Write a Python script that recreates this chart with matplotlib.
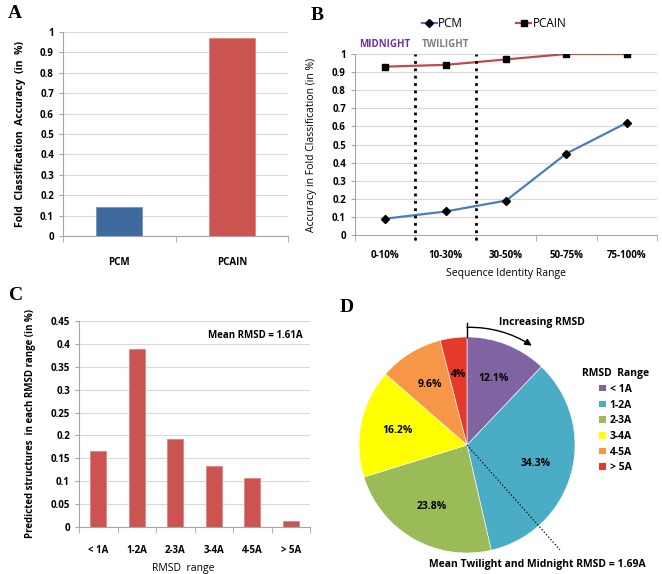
import matplotlib.pyplot as plt
import numpy as np
from matplotlib.patches import Patch

# panel A
methods = ["PCM", "PCAIN"]
fold_acc = [0.14, 0.97]

# panel B
id_ranges = ["0-10%", "10-30%", "30-50%", "50-75%", "75-100%"]
pcm_acc = [0.09, 0.13, 0.19, 0.45, 0.62]
pcain_acc = [0.93, 0.94, 0.97, 1.0, 1.0]

# panel C / D
rmsd_ranges = ["< 1A", "1-2A", "2-3A", "3-4A", "4-5A", "> 5A"]
rmsd_frac = [0.165, 0.388, 0.193, 0.134, 0.106, 0.014]
rmsd_pct = [12.1, 34.3, 23.8, 16.2, 9.6, 4]
pct_labels = ["12.1%", "34.3%", "23.8%", "16.2%", "9.6%", "4%"]

W, H = 662, 574
fig = plt.figure(figsize=(W / 100, H / 100), dpi=100)
plt.rcParams['font.family'] = ['Open Sans', 'DejaVu Sans']

grid_c = '#D9D9D9'
axis_c = '#A6A6A6'


def box(l, t, r, b):
    return [l / W, 1 - b / H, (r - l) / W, (b - t) / H]


def excel_style(ax, n):
    ax.set_axisbelow(True)
    ax.yaxis.grid(True, color=grid_c, lw=0.8)
    for s in ['top', 'right']:
        ax.spines[s].set_visible(False)
    for s in ['left', 'bottom']:
        ax.spines[s].set_color(axis_c)
    ax.set_xlim(-0.5, n - 0.5)
    ax.set_xticks(np.arange(-0.5, n, 1.0), minor=True)
    ax.tick_params(axis='x', which='major', length=0)
    ax.tick_params(axis='x', which='minor', length=4, color=axis_c)
    ax.tick_params(axis='y', length=3, color=axis_c, labelsize=7)
    for t in ax.get_yticklabels():
        t.set_fontweight('bold')


def letter(x, y, s):
    fig.text(x / W, 1 - y / H, s, family='Liberation Serif', fontweight='bold',
             fontsize=14, ha='left', va='center')


# ---- A ----
axA = fig.add_axes(box(63, 32, 288, 236))
xa = np.arange(len(methods))
axA.bar(xa, fold_acc, width=0.41, color=['#3E6A9F', '#CB5451'],
        edgecolor=['#6F96C8', '#E08583'], lw=0.6)
axA.set_ylim(0, 1)
axA.set_yticks(np.arange(0, 1.01, 0.1))
axA.set_yticklabels(['0', '0.1', '0.2', '0.3', '0.4', '0.5', '0.6', '0.7', '0.8', '0.9', '1'])
excel_style(axA, 2)
axA.set_xticks(xa)
axA.set_xticklabels(methods, fontsize=7, fontweight='bold')
axA.tick_params(axis='x', which='major', pad=15)
axA.set_ylabel('Fold  Classification  Accuracy  (in  %)', fontsize=7.5, fontweight='bold')
axA.yaxis.set_label_coords(-0.165, 0.5)
letter(8, 13, 'A')

# ---- B ----
axB = fig.add_axes(box(355, 54, 657, 235))
xb = np.arange(len(id_ranges))
axB.plot(xb, pcm_acc, color='#4A7EBB', lw=1.6, marker='D', ms=4,
         mfc='black', mec='black', label='PCM')
axB.plot(xb, pcain_acc, color='#BE4B48', lw=1.6, marker='s', ms=4,
         mfc='black', mec='black', label='PCAIN')
for xv in [0.5, 1.5]:
    axB.plot([xv, xv], [-0.03, 1.0], color='black', ls=':', lw=2, clip_on=False)
axB.set_ylim(0, 1)
axB.set_yticks(np.arange(0, 1.01, 0.1))
axB.set_yticklabels(['0', '0.1', '0.2', '0.3', '0.4', '0.5', '0.6', '0.7', '0.8', '0.9', '1'])
excel_style(axB, 5)
axB.set_xticks(xb)
axB.set_xticklabels(id_ranges, fontsize=7, fontweight='bold')
axB.tick_params(axis='x', which='major', pad=11)
axB.set_xlabel('Sequence Identity Range', fontsize=7.5)
axB.xaxis.set_label_coords(0.5, -0.18)
axB.set_ylabel('Accuracy in Fold Classification (in %)', fontsize=7.5)
axB.yaxis.set_label_coords(-0.125, 0.5)
axB.text(0, 1.055, 'MIDNIGHT', color='#7030A0', fontsize=7, fontweight='bold',
         ha='center', va='center')
axB.text(1.0, 1.055, 'TWILIGHT', color='#7F7F7F', fontsize=7, fontweight='bold',
         ha='center', va='center')
axB.legend(loc='center', bbox_to_anchor=(0.46, 1.17), ncol=2, frameon=False,
           fontsize=8.5, handlelength=1.3, handletextpad=0.1, columnspacing=4.5)
letter(311, 15, 'B')

# ---- C ----
axC = fig.add_axes(box(79, 321, 310, 527))
xc = np.arange(len(rmsd_ranges))
axC.bar(xc, rmsd_frac, width=0.42, color='#CB5451', edgecolor='#E08583', lw=0.6)
axC.set_ylim(0, 0.45)
axC.set_yticks(np.arange(0, 0.451, 0.05))
axC.set_yticklabels(['0', '0.05', '0.1', '0.15', '0.2', '0.25', '0.3', '0.35', '0.4', '0.45'])
excel_style(axC, 6)
axC.set_xticks(xc)
axC.set_xticklabels(rmsd_ranges, fontsize=7, fontweight='bold')
axC.tick_params(axis='x', which='major', pad=13)
axC.set_xlabel('RMSD  range', fontsize=7.5)
axC.xaxis.set_label_coords(0.45, -0.175)
axC.set_ylabel('Predicted structures  in each RMSD range (in %)', fontsize=7, fontweight='bold')
axC.yaxis.set_label_coords(-0.185, 0.5)
axC.text(0.97, 0.93, 'Mean RMSD = 1.61A', transform=axC.transAxes, fontsize=7,
         fontweight='bold', ha='right', va='center')
letter(9, 295, 'C')

# ---- D ----
cx, cy, R = 467, 445, 108
axD = fig.add_axes(box(330, 290, 662, 574))
axD.axis('off')
pie_colors = ['#8064A2', '#4BACC6', '#9BBB59', '#FFFF00', '#F79646', '#E53A2A']
wedges, texts, autotexts = axD.pie(rmsd_pct, colors=pie_colors, startangle=90,
                                   counterclock=False, autopct='%s',
                                   pctdistance=0.66,
                                   wedgeprops=dict(edgecolor='white', lw=0.4))
for t, s in zip(autotexts, pct_labels):
    t.set_text(s)
    t.set_fontsize(7.5)
    t.set_fontweight('bold')
axD.set_aspect('auto')
axD.set_xlim((330 - cx) / R, (662 - cx) / R)
axD.set_ylim((cy - 574) / R, (cy - 290) / R)

# arrow "Increasing RMSD"
axD.plot([0, 0], [1.0, 1.13], color='black', lw=1, clip_on=False)
axD.annotate('', xy=(0.6, 0.92), xytext=(0, 1.09),
             arrowprops=dict(arrowstyle='-|>', color='black', lw=1,
                             connectionstyle='arc3,rad=-0.15', shrinkA=0, shrinkB=0))
axD.text(0.69, 1.13, 'Increasing RMSD', fontsize=7.5, fontweight='bold', ha='center', va='center')
axD.plot([0, 0.86], [0, -0.97], color='black', ls=':', lw=0.9, clip_on=False)
axD.text(0.65, -1.11, 'Mean Twilight and Midnight RMSD = 1.69A', fontsize=7.5,
         fontweight='bold', ha='center', va='center')

handles = [Patch(facecolor=c) for c in pie_colors]
leg = axD.legend(handles, rmsd_ranges, title='RMSD  Range', frameon=False,
                 loc='upper left', bbox_to_anchor=(578 / W, 1 - 364 / H),
                 bbox_transform=fig.transFigure, fontsize=7.5,
                 handlelength=0.6, handleheight=0.6, handletextpad=0.4,
                 labelspacing=0.45, borderaxespad=0)
leg.get_title().set_fontsize(7.5)
leg.get_title().set_fontweight('bold')
for t in leg.get_texts():
    t.set_fontweight('bold')
leg._legend_box.align = 'center'
letter(340, 308, 'D')

fig.savefig('out.png', dpi=100)
